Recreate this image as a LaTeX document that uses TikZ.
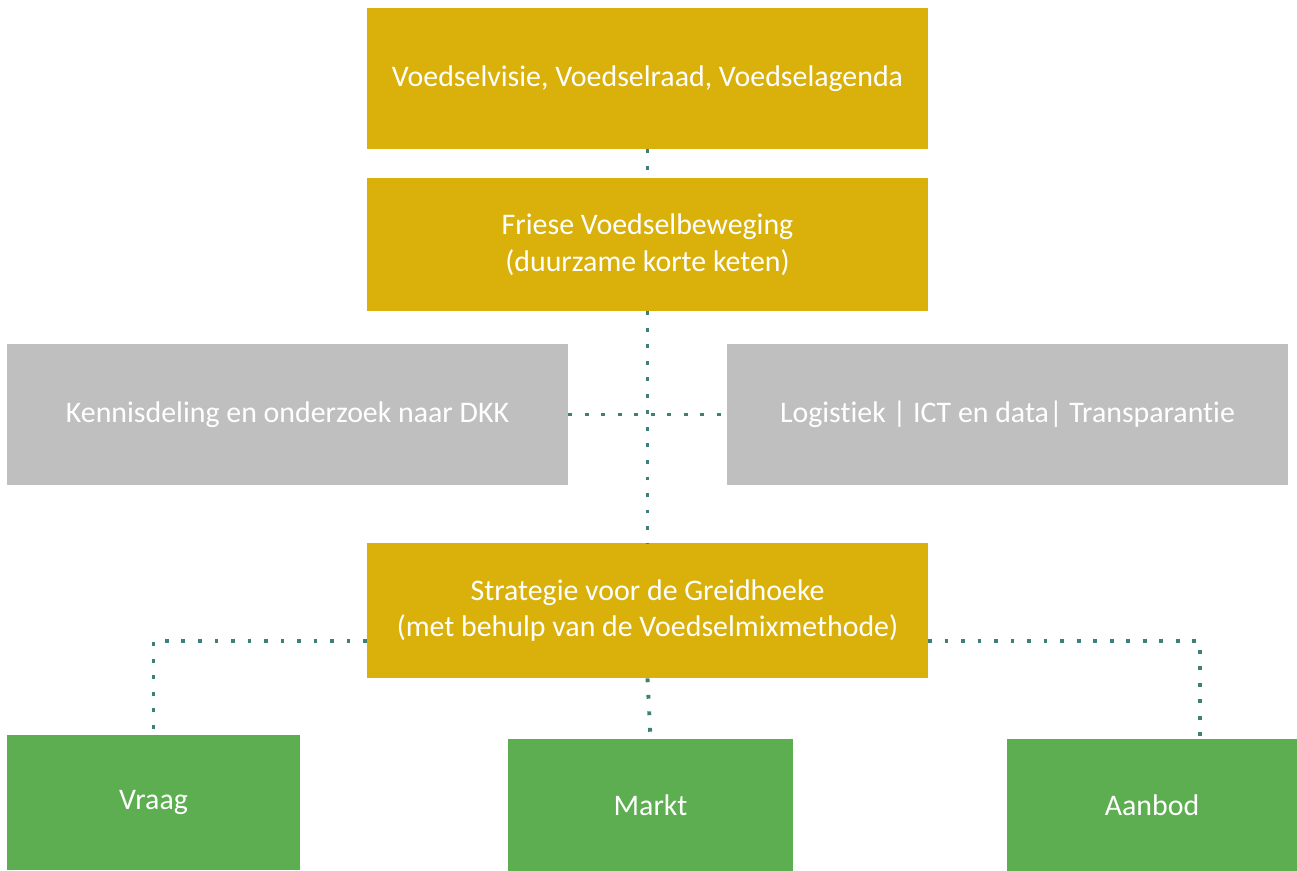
\documentclass[tikz,border=0pt]{standalone}
\usepackage{fontspec}
\setmainfont{Carlito}[Ligatures=NoCommon]
\definecolor{goud}{HTML}{DAB00A}
\definecolor{grijs}{HTML}{BFBFBF}
\definecolor{groen}{HTML}{5DAD51}
\definecolor{blauwgroen}{HTML}{3F7F77}
\tikzset{
  blok/.style={minimum width=11.22cm, minimum height=2.82cm, inner sep=0pt,
    text=white, align=center, font=\fontsize{17}{21}\selectfont},
  goudblok/.style={blok, fill=goud},
  grijsblok/.style={blok, fill=grijs},
  groenblok/.style={blok, fill=groen, minimum width=5.8cm, minimum height=2.65cm},
  stippel/.style={draw=blauwgroen, line width=2.2pt, dash pattern=on 2.2pt off 7.2pt}
}
\begin{document}
\begin{tikzpicture}[x=0.02cm,y=-0.02cm]
            \useasboundingbox (0,0) rectangle (1297,870);
            \node[goudblok] (visie) at (647.5,78.5) {Voedselvisie,\ Voedselraad,\ Voedselagenda};
            \node[goudblok, minimum height=2.66cm] (friese) at (647.5,244.5) {Friese Voedselbeweging\\(duurzame korte keten)};
            \node[grijsblok] (kennis) at (287.5,414.5) {Kennisdeling en onderzoek naar DKK};
            \node[grijsblok] (logistiek) at (1007.5,414.5) {Logistiek | ICT en data| Transparantie};
            \node[goudblok, minimum height=2.7cm] (strategie) at (647.5,610.5) {Strategie voor de Greidhoeke\\(met behulp van de Voedselmixmethode)};
            \node[groenblok, minimum width=5.86cm, minimum height=2.7cm] (vraag) at (153.5,802.5) {Vraag};
            \node[groenblok, minimum width=5.7cm] (markt) at (650.5,805) {Markt};
            \node[groenblok] (aanbod) at (1152,805) {Aanbod};
            \coordinate (SL) at (367,641);
            \coordinate (SR) at (928,641);
            \coordinate (AB) at (1200,740);
            \draw[stippel] (visie) -- (friese);
            \draw[stippel] (friese) -- (strategie);
            \draw[stippel] (kennis.east) -- (logistiek.west);
            \draw[stippel] (SL) -| (vraag.north);
            \draw[stippel] (SR) -| (AB);
            \draw[stippel] (strategie.south) -- (markt.north);
        \end{tikzpicture}
\end{document}
